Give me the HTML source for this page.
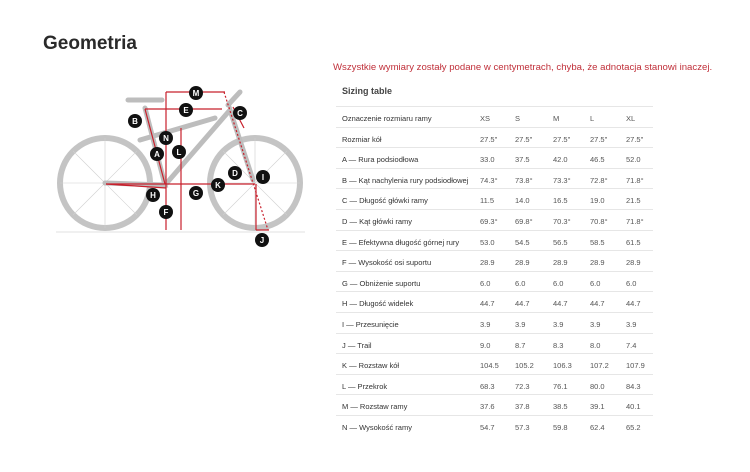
<!DOCTYPE html>
<html><head><meta charset="utf-8"><style>
body{margin:0;width:750px;height:472px;background:#fff;font-family:"Liberation Sans",sans-serif;position:relative;overflow:hidden}
.t{position:absolute;white-space:nowrap}
.h{left:43px;top:33px;font-size:19px;font-weight:bold;color:#2a2a2a}
.note{left:333px;top:62px;font-size:9.6px;color:#c0303a}
.st{left:342px;top:86px;font-size:9px;font-weight:bold;color:#444}
.row{position:absolute;left:336px;width:317px;height:20.6px;border-top:1px solid #e6e6e6;font-size:7.5px;color:#555}
.row span{position:absolute;top:7px}
.row .l{left:6px;color:#333}
</style></head><body>
<div class="t h">Geometria</div>
<div class="t note">Wszystkie wymiary zostały podane w centymetrach, chyba, że adnotacja stanowi inaczej.</div>
<div class="t st">Sizing table</div>
<div id="tb"></div>
<svg style="position:absolute;left:0;top:0" width="330" height="260">
<g fill="none" stroke="#c4c4c4" stroke-width="6">
<circle cx="105" cy="183" r="45"/><circle cx="255" cy="183" r="45"/></g>
<g stroke="#cfcfcf" stroke-width="0.6">
<line x1="105" y1="138" x2="105" y2="228"/><line x1="60" y1="183" x2="150" y2="183"/><line x1="73" y1="151" x2="137" y2="215"/><line x1="73" y1="215" x2="137" y2="151"/>
<line x1="255" y1="138" x2="255" y2="228"/><line x1="210" y1="183" x2="300" y2="183"/><line x1="223" y1="151" x2="287" y2="215"/><line x1="223" y1="215" x2="287" y2="151"/></g>
<g stroke="#bdbdbd" stroke-width="5" fill="none" stroke-linecap="round">
<path d="M105 183 L165 185 L145 108"/><path d="M165 185 L230 110 L253 180"/><path d="M140 140 L215 118"/>
<path d="M128 100 L162 100"/><path d="M228 105 L240 92"/></g>
<g stroke="#c8202c" stroke-width="1.2" fill="none">
<line x1="106" y1="184" x2="255" y2="184"/><line x1="106" y1="184" x2="166" y2="188"/>
<line x1="166" y1="92" x2="166" y2="230"/><line x1="181" y1="128" x2="181" y2="230"/>
<line x1="166" y1="92" x2="225" y2="92"/><line x1="145" y1="109" x2="222" y2="109"/>
<line x1="145" y1="109" x2="165" y2="184"/><line x1="233" y1="107" x2="244" y2="128"/>
<line x1="256" y1="184" x2="256" y2="230"/><line x1="256" y1="230" x2="269" y2="230"/>
<line x1="224" y1="92" x2="268" y2="230" stroke-dasharray="2,2"/></g>
<line x1="56" y1="232" x2="305" y2="232" stroke="#e0e0e0"/>
<g font-size="8" font-weight="bold" fill="#fff" text-anchor="middle">
<g fill="#111"><circle cx="196" cy="93" r="7"/><circle cx="186" cy="110" r="7"/><circle cx="240" cy="113" r="7"/><circle cx="135" cy="121" r="7"/><circle cx="166" cy="138" r="7"/><circle cx="179" cy="152" r="7"/><circle cx="157" cy="154" r="7"/><circle cx="235" cy="173" r="7"/><circle cx="263" cy="177" r="7"/><circle cx="218" cy="185" r="7"/><circle cx="196" cy="193" r="7"/><circle cx="153" cy="195" r="7"/><circle cx="166" cy="212" r="7"/><circle cx="262" cy="240" r="7"/></g>
<text x="196" y="96">M</text><text x="186" y="113">E</text><text x="240" y="116">C</text><text x="135" y="124">B</text><text x="166" y="141">N</text><text x="179" y="155">L</text><text x="157" y="157">A</text><text x="235" y="176">D</text><text x="263" y="180">I</text><text x="218" y="188">K</text><text x="196" y="196">G</text><text x="153" y="198">H</text><text x="166" y="215">F</text><text x="262" y="243">J</text></g>
</svg>
<script>
var rows=[["Oznaczenie rozmiaru ramy","XS","S","M","L","XL"],["Rozmiar kół","27.5\"","27.5\"","27.5\"","27.5\"","27.5\""],["A — Rura podsiodłowa","33.0","37.5","42.0","46.5","52.0"],["B — Kąt nachylenia rury podsiodłowej","74.3°","73.8°","73.3°","72.8°","71.8°"],["C — Długość główki ramy","11.5","14.0","16.5","19.0","21.5"],["D — Kąt główki ramy","69.3°","69.8°","70.3°","70.8°","71.8°"],["E — Efektywna długość górnej rury","53.0","54.5","56.5","58.5","61.5"],["F — Wysokość osi suportu","28.9","28.9","28.9","28.9","28.9"],["G — Obniżenie suportu","6.0","6.0","6.0","6.0","6.0"],["H — Długość widelek","44.7","44.7","44.7","44.7","44.7"],["I — Przesunięcie","3.9","3.9","3.9","3.9","3.9"],["J — Trail","9.0","8.7","8.3","8.0","7.4"],["K — Rozstaw kół","104.5","105.2","106.3","107.2","107.9"],["L — Przekrok","68.3","72.3","76.1","80.0","84.3"],["M — Rozstaw ramy","37.6","37.8","38.5","39.1","40.1"],["N — Wysokość ramy","54.7","57.3","59.8","62.4","65.2"]];
var xs=[6,144,179,217,254,290],h="";
rows.forEach(function(r,i){h+='<div class="row" style="top:'+(106+i*20.6)+'px">';r.forEach(function(c,j){h+='<span class="'+(j?'':'l')+'" style="left:'+xs[j]+'px">'+c+'</span>'});h+='</div>'});
document.getElementById('tb').innerHTML=h;
</script>
</body></html>
